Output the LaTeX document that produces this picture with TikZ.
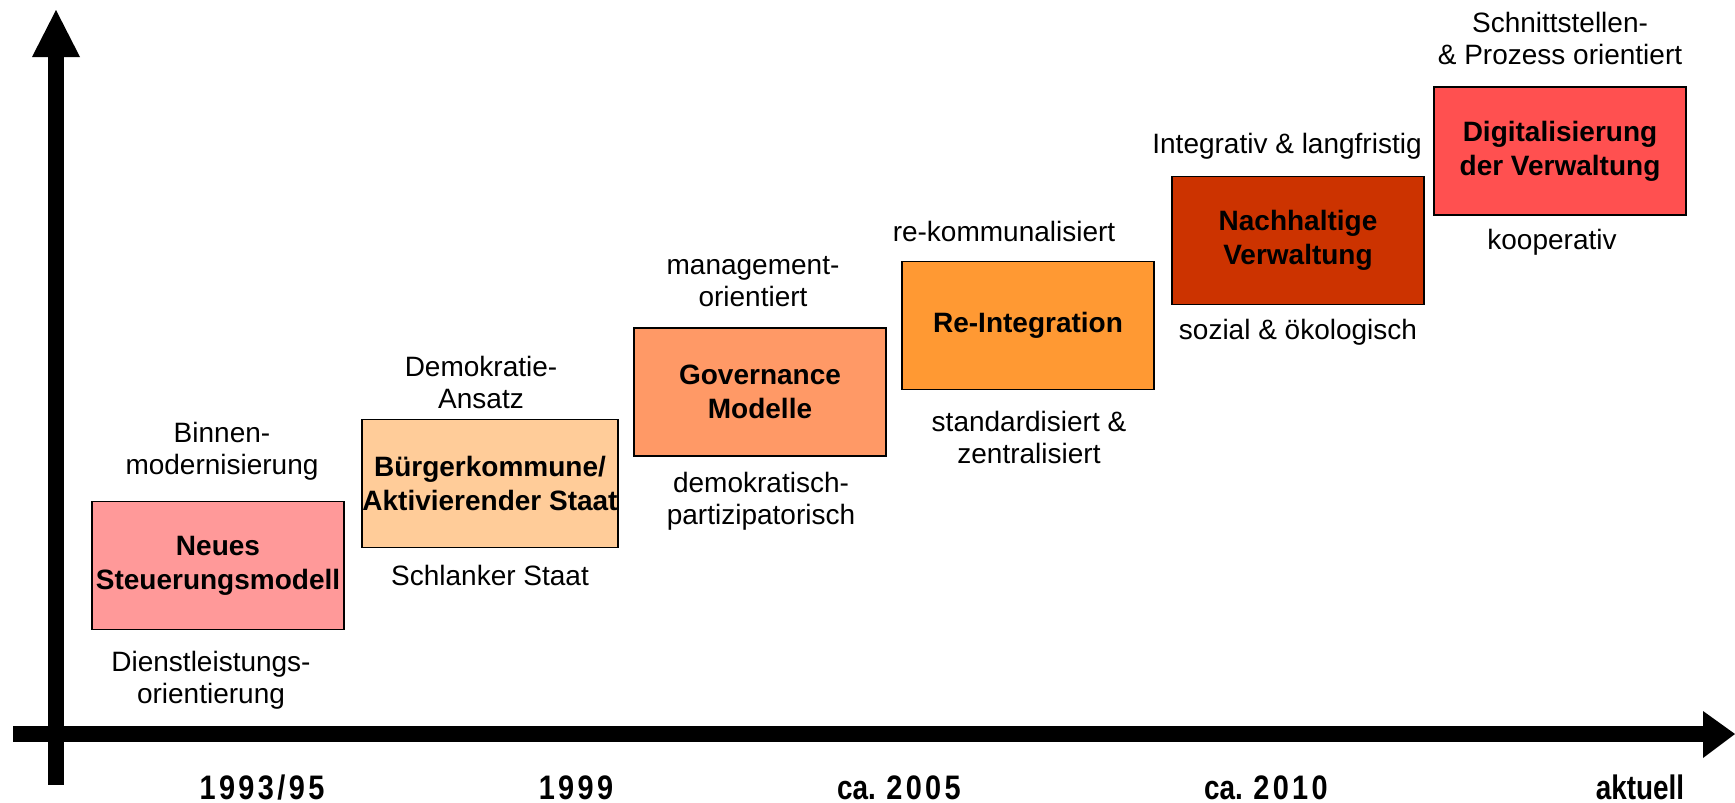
\documentclass[tikz,border=0pt]{standalone}
\usepackage{fontspec}
\setmainfont{Liberation Sans}
\newfontfamily\yearfont{Liberation Sans}[FakeStretch=0.82]
\newfontfamily\digitfont{Liberation Sans}[FakeStretch=0.85,LetterSpace=10]
\newcommand\yd[1]{{\digitfont\bfseries #1}}
\definecolor{cA}{HTML}{FF9999}
\definecolor{cB}{HTML}{FFCC99}
\definecolor{cC}{HTML}{FF9966}
\definecolor{cD}{HTML}{FF9933}
\definecolor{cE}{HTML}{CC3300}
\definecolor{cF}{HTML}{FF5050}
\begin{document}
\begin{tikzpicture}[x=0.5pt,y=-0.5pt,
  stage/.style={draw=black, line width=0.9pt, minimum width=126pt, minimum height=64pt,
    inner sep=0pt, align=center, font=\bfseries\fontsize{14}{17}\selectfont},
  lbl/.style={align=center, inner sep=0pt, font=\fontsize{14}{16}\selectfont},
  yearlbl/.style={anchor=base, inner sep=0pt, font=\yearfont\bfseries\fontsize{17}{20}\selectfont},
  axisfill/.style={fill=black}]
\useasboundingbox (0,0) rectangle (1735,803);

% axes
\coordinate (vA) at (48,785);
\coordinate (vB) at (64,57);
\coordinate (vTip) at (56,10);
\fill[axisfill] (vA) rectangle (vB);
\fill[axisfill] (32,57) -- (vTip) -- (80,57) -- cycle;
\coordinate (hA) at (13,726);
\coordinate (hB) at (1704,742);
\coordinate (hTip) at (1735,734);
\fill[axisfill] (hA) rectangle (hB);
\fill[axisfill] (1703,711) -- (hTip) -- (1703,758) -- cycle;

% stages
\node[stage, fill=cA] (s1) at (218,565.5) {Neues\\Steuerungsmodell};
\node[stage, fill=cB] (s2) at (490,483.5) {Bürgerkommune/\\Aktivierender Staat};
\node[stage, fill=cC] (s3) at (760,392) {Governance\\Modelle};
\node[stage, fill=cD] (s4) at (1028,325.5) {Re-Integration};
\node[stage, fill=cE] (s5) at (1298,240.5) {Nachhaltige\\Verwaltung};
\node[stage, fill=cF] (s6) at (1560,151) {Digitalisierung\\der Verwaltung};

% labels
\node[lbl] (l1) at (222,451) {Binnen-\\modernisierung};
\node[lbl] (l2) at (211,680) {Dienstleistungs-\\orientierung};
\node[lbl] (l3) at (481,382) {Demokratie-\\Ansatz};
\node[lbl] (l4) at (490,575) {Schlanker Staat};
\node[lbl] (l5) at (753,282) {management-\\orientiert};
\node[lbl] (l6) at (761,501) {demokratisch-\\partizipatorisch};
\node[lbl] (l7) at (1004,231) {re-kommunalisiert};
\node[lbl] (l8) at (1029,437) {standardisiert \&\\zentralisiert};
\node[lbl] (l9) at (1287,146) {Integrativ \& langfristig};
\node[lbl] (l10) at (1298,332) {sozial \& ökologisch};
\node[lbl] (l11) at (1560,38) {Schnittstellen-\\\& Prozess orientiert};
\node[lbl] (l12) at (1552,242) {kooperativ};

% years
\node[yearlbl] (y1) at (262,799) {\yd{1993/95}};
\node[yearlbl] (y2) at (576,799) {\yd{1999}};
\node[yearlbl] (y3) at (899,799) {ca. \yd{2005}};
\node[yearlbl] (y4) at (1266,799) {ca. \yd{2010}};
\node[yearlbl] (y5) at (1640,799) {aktuell};
\end{tikzpicture}
\end{document}
